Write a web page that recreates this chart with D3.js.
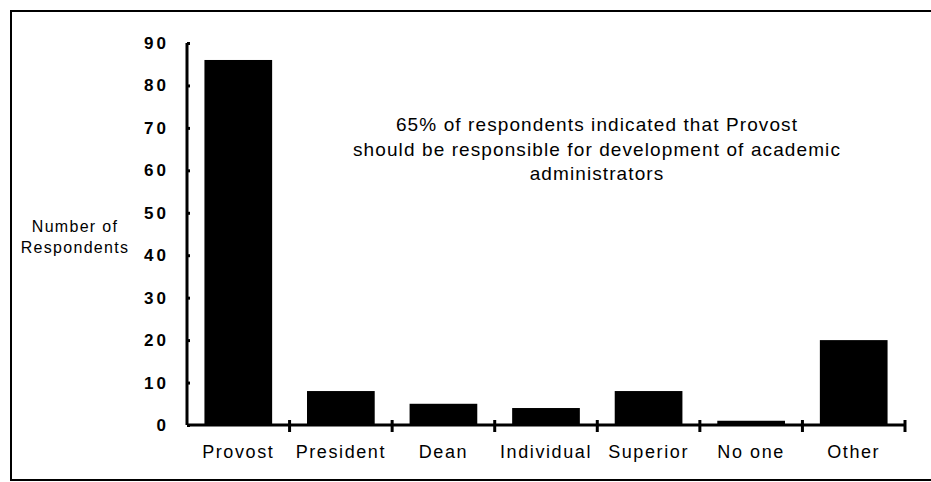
<!DOCTYPE html>
<html>
<head>
<meta charset="utf-8">
<script src="https://cdn.jsdelivr.net/npm/d3@7"></script>
<style>
  body { margin: 0; background: #fff; }
  svg text { font-family: "Liberation Sans", Arial, sans-serif; fill: #000; }
</style>
</head>
<body>
<div id="viz"></div>
<script>
// donnees
var categories = ['Provost', 'President', 'Dean', 'Individual', 'Superior', 'No one', 'Other'];
var respondents = [86, 8, 5, 4, 8, 1, 20];
var yTicks = [0, 10, 20, 30, 40, 50, 60, 70, 80, 90];
var noteLines = ['65% of respondents indicated that Provost',
                 'should be responsible for development of academic',
                 'administrators'];

var W = 931, H = 482;
var svg = d3.select('#viz').append('svg')
  .attr('width', W)
  .attr('height', H);

// cadre
svg.append('rect')
  .attr('x', 11).attr('y', 11)
  .attr('width', 925).attr('height', 469)
  .style('fill', 'none')
  .style('stroke', 'black')
  .style('stroke-width', 2);

var x0 = 187, x1 = 905, yTop = 43, yBot = 425;

var x = d3.scaleBand().domain(categories).range([x0, x1]).paddingInner(0.34).paddingOuter(0.17);
var y = d3.scaleLinear().domain([0, 90]).range([yBot, yTop]);

// barres
svg.selectAll('rect.bar').data(respondents).join('rect')
  .attr('class', 'bar')
  .attr('x', (d, i) => x(categories[i]))
  .attr('y', d => y(d))
  .attr('width', x.bandwidth())
  .attr('height', d => y(0) - y(d))
  .style('fill', 'black');

// axe y
var yAxis = svg.append('g').attr('transform', `translate(${x0},0)`)
  .call(d3.axisLeft(y).tickValues(yTicks).tickSize(7).tickPadding(11));
yAxis.select('.domain').attr('d', `M0,${yTop}V${yBot}`).style('stroke-width', 3);
yAxis.selectAll('.tick line').attr('x2', 3).style('stroke-width', 3);
yAxis.selectAll('.tick text')
  .style('font-size', '17px')
  .style('font-weight', 'bold')
  .style('letter-spacing', '3px')
  .style('font-family', '"Liberation Sans", Arial, sans-serif');

// axe x avec graduations entre les categories
var bounds = d3.range(categories.length + 1).map(i => x0 + i * (x1 - x0) / categories.length);
svg.append('line')
  .attr('x1', x0).attr('x2', x1)
  .attr('y1', yBot).attr('y2', yBot)
  .style('stroke', 'black').style('stroke-width', 3);
svg.selectAll('line.xt').data(bounds.slice(1)).join('line')
  .attr('class', 'xt')
  .attr('x1', d => d).attr('x2', d => d)
  .attr('y1', yBot - 5).attr('y2', yBot + 7)
  .style('stroke', 'black').style('stroke-width', 3);

svg.selectAll('text.cat').data(categories).join('text')
  .attr('class', 'cat')
  .attr('x', d => x(d) + x.bandwidth() / 2)
  .attr('y', 458)
  .attr('text-anchor', 'middle')
  .style('font-size', '18px')
  .style('letter-spacing', '1.6px')
  .text(d => d);

// titre de l'axe y
svg.selectAll('text.ytitle').data(['Number of', 'Respondents']).join('text')
  .attr('class', 'ytitle')
  .attr('x', 75)
  .attr('y', (d, i) => 232 + i * 21)
  .attr('text-anchor', 'middle')
  .style('font-size', '16px')
  .style('letter-spacing', '1.3px')
  .text(d => d);

// annotation
svg.selectAll('text.note').data(noteLines).join('text')
  .attr('class', 'note')
  .attr('x', 597)
  .attr('y', (d, i) => 131 + i * 24.5)
  .attr('text-anchor', 'middle')
  .style('font-size', '19px')
  .style('letter-spacing', '1.1px')
  .text(d => d);
</script>
</body>
</html>
